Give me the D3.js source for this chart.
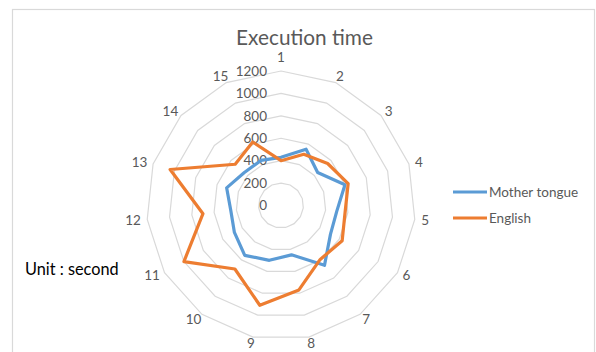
<!DOCTYPE html>
<html>
<head>
<meta charset="utf-8">
<script src="https://cdn.jsdelivr.net/npm/d3@7"></script>
<style>
  html, body { margin: 0; padding: 0; background: #fff; }
  svg { display: block; }
  text { font-family: Lato, "Open Sans", sans-serif; }
</style>
</head>
<body>
<svg id="chart" width="596" height="352"></svg>
<script>
// Execution time per task (seconds)
const categories = ["1","2","3","4","5","6","7","8","9","10","11","12","13","14","15"];
const motherTongue = [430, 550, 440, 600, 500, 510, 660, 450, 500, 550, 480, 450, 510, 440, 440];
const english = [400, 500, 560, 630, 575, 630, 595, 770, 910, 700, 1000, 700, 1040, 550, 620];
const tickValues = [0, 200, 400, 600, 800, 1000, 1200];
const seriesNames = ["Mother tongue", "English"];
const seriesColors = ["#5b9bd5", "#ed7d31"];

const svg = d3.select("#chart");
const cx = 281, cy = 205.5, R = 134.5;

// frame
svg.append("rect")
  .attr("x", 12.5).attr("y", 9.5)
  .attr("width", 582).attr("height", 360)
  .attr("fill", "#fff").attr("stroke", "#d9d9d9").attr("stroke-width", 1.2);

const r = d3.scaleLinear().domain([0, 1200]).range([0, R]);
const angle = d3.scaleLinear().domain([0, categories.length]).range([0, 2 * Math.PI]);

const g = svg.append("g").attr("transform", `translate(${cx},${cy})`);

// polygon grid rings
const ring = v => d3.lineRadial()
  .angle((d, i) => angle(i))
  .radius(() => r(v))
  .curve(d3.curveLinearClosed)(categories);

g.selectAll("path.ring")
  .data(tickValues.filter(v => v > 0))
  .join("path")
  .attr("class", "ring")
  .attr("d", v => ring(v))
  .attr("fill", "none")
  .attr("stroke", "#d9d9d9")
  .attr("stroke-width", 1.2);

// value tick labels beside the first spoke
g.selectAll("text.tick")
  .data(tickValues)
  .join("text")
  .attr("class", "tick")
  .attr("x", -14)
  .attr("y", v => -r(v))
  .attr("dy", "0.35em")
  .attr("text-anchor", "end")
  .attr("font-size", 13.5)
  .attr("fill", "#595959")
  .text(v => v);

// category labels round the outside
g.selectAll("text.cat")
  .data(categories)
  .join("text")
  .attr("class", "cat")
  .attr("font-size", 13.5)
  .attr("fill", "#595959")
  .attr("text-anchor", "middle")
  .text(d => d)
  .each(function(d, i) {
    const a = angle(i);
    const s = Math.sin(a), c = Math.cos(a);
    const w = this.getComputedTextLength();
    const x = R * s + s * (6.5 + w / 2);
    const y = -R * c - (6 * c + 8 * Math.pow(Math.max(0, c), 30));
    d3.select(this).attr("x", x).attr("y", y).attr("dy", "0.35em");
  });

// series lines
const line = d3.lineRadial()
  .angle((d, i) => angle(i))
  .radius(d => r(d))
  .curve(d3.curveLinearClosed);

[motherTongue, english].forEach((vals, k) => {
  g.append("path")
    .attr("d", line(vals))
    .attr("fill", "none")
    .attr("stroke", seriesColors[k])
    .attr("stroke-width", 3.2)
    .attr("stroke-linejoin", "round");
});

// title
svg.append("text")
  .attr("x", 304.5).attr("y", 44.5)
  .attr("text-anchor", "middle")
  .attr("font-size", 20.8)
  .attr("fill", "#595959")
  .text("Execution time");

// legend
const lg = svg.append("g").attr("transform", "translate(453,192)");
seriesNames.forEach((name, k) => {
  const row = lg.append("g").attr("transform", `translate(0,${k * 26})`);
  row.append("line")
    .attr("x1", 0).attr("x2", 34).attr("y1", 0).attr("y2", 0)
    .attr("stroke", seriesColors[k]).attr("stroke-width", 3.2);
  row.append("text")
    .attr("x", 36).attr("y", 0).attr("dy", "0.35em")
    .attr("font-size", 13.5)
    .attr("fill", "#595959")
    .text(name);
});

// unit note
svg.append("text")
  .attr("x", 25).attr("y", 269).attr("dy", "0.35em")
  .attr("font-size", 16.3)
  .attr("fill", "#000")
  .text("Unit : second");
</script>
</body>
</html>
